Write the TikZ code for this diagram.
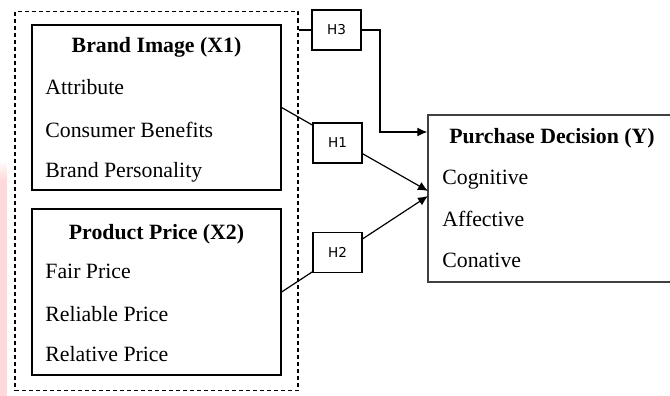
\documentclass[tikz,border=0pt]{standalone}
\usepackage{fontspec}
\setmainfont{Liberation Serif}
\newfontfamily\hfont{DejaVu Sans}
\usetikzlibrary{arrows.meta,backgrounds,calc}

\tikzset{
  kotak/.style={draw, line width=0.6pt, inner sep=0pt, minimum width=124.5pt, minimum height=82.5pt},
  judul/.style={font=\fontsize{10.9}{13}\selectfont\bfseries, anchor=base, inner sep=0pt},
  isi/.style={font=\fontsize{10.9}{13}\selectfont, anchor=base west, inner sep=0pt},
  hipo/.style={draw, fill=white, line width=0.6pt, minimum width=24.5pt, minimum height=20pt, inner sep=0pt, font=\hfont\fontsize{6.8}{8}\selectfont},
  panah/.style={-{Latex[length=5pt,width=4.5pt]}, line width=0.6pt}
}

\begin{document}
\begin{tikzpicture}[x=0.5pt, y=-0.5pt]
\useasboundingbox (0,0) rectangle (670,396);
\clip (0,0) rectangle (670,396);
% pink strip at the left edge
\shade[top color=white, bottom color=red!15] (0,160) rectangle (7,180);
\fill[red!15] (0,180) rectangle (7,396);

% group of the two independent variables
\node[draw, line width=0.6pt, dash pattern=on 2pt off 1.5pt, inner sep=0pt, minimum width=141.5pt, minimum height=189.5pt] (grp) at (156.5,201) {};

\node[kotak] (bi) at (156.5,107.5) {};
\node[judul] (bit) at (156.5,53) {Brand Image (X1)};
\node[isi] (bi1) at (45,94) {Attribute};
\node[isi] (bi2) at (45,137) {Consumer Benefits};
\node[isi] (bi3) at (45,177) {Brand Personality};

\node[kotak, minimum height=83pt] (pp) at (156.5,292) {};
\node[judul] (ppt) at (156.5,239) {Product Price (X2)};
\node[isi] (pp1) at (45,278) {Fair Price};
\node[isi] (pp2) at (45,321) {Reliable Price};
\node[isi] (pp3) at (45,361) {Relative Price};

\node[kotak, line width=0.7pt, draw=black!75, minimum width=126pt, minimum height=83.5pt] (pd) at (554,198.5) {};
\node[judul] (pdt) at (552,143) {Purchase Decision (Y)};
\node[isi] (pd1) at (442,184) {Cognitive};
\node[isi] (pd2) at (442,226) {Affective};
\node[isi] (pd3) at (442,267) {Conative};

% hypotheses
\node[hipo] (h3) at (336.5,30) {H3};
\draw[line width=0.6pt] (grp.east |- h3) -- (h3.west);
\coordinate (belok) at (380,132);
\draw[panah] (h3.east) -| (belok) -- (belok -| pd.west);

\coordinate (t1) at (428,191);
\coordinate (t2) at (428,196);
\draw[panah] (bi.east) -- (t1);
\draw[panah] (pp.east) -- (t2);
\node[hipo] (h1) at (337.5,143) {H1};
\node[hipo] (h2) at (337.5,252.5) {H2};
\end{tikzpicture}
\end{document}
